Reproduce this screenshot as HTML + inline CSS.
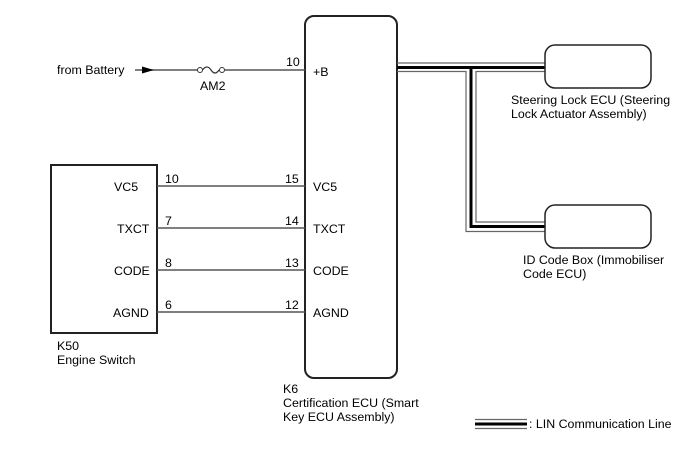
<!DOCTYPE html>
<html><head><meta charset="utf-8"><style>
body{margin:0;background:#fff}
svg{display:block}
text{font-family:"Liberation Sans",Arial,sans-serif;font-size:12.4px;fill:#000}
</style></head><body>
<svg width="688" height="463" viewBox="0 0 688 463">
<rect x="305" y="16" width="92" height="362" rx="9" fill="none" stroke="#222" stroke-width="2"/>
<rect x="51" y="165" width="106" height="168" fill="none" stroke="#222" stroke-width="2"/>
<line x1="135" y1="70" x2="198" y2="70" stroke="#555" stroke-width="1.5"/>
<polygon points="142,66.5 154,70 142,73.5" fill="#000"/>
<circle cx="200" cy="70" r="2.5" fill="#fff" stroke="#333"/>
<path d="M202.5 70 Q207 64 211 70 T219 70" fill="none" stroke="#333" stroke-width="1.2"/>
<circle cx="222" cy="70" r="2.5" fill="#fff" stroke="#333"/>
<line x1="224.5" y1="70" x2="305" y2="70" stroke="#555" stroke-width="1.5"/>
<text x="57" y="74">from Battery</text>
<text x="200" y="90">AM2</text>
<text x="286" y="66">10</text>
<text x="313" y="76">+B</text>
<g stroke="#555" stroke-width="1.5">
<line x1="157" y1="186" x2="305" y2="186"/>
<line x1="157" y1="228" x2="305" y2="228"/>
<line x1="157" y1="270" x2="305" y2="270"/>
<line x1="157" y1="312" x2="305" y2="312"/>
</g>
<text x="114" y="191">VC5</text>
<text x="117" y="233">TXCT</text>
<text x="114" y="275">CODE</text>
<text x="113" y="317">AGND</text>
<text x="165" y="183">10</text>
<text x="165" y="225">7</text>
<text x="165" y="267">8</text>
<text x="165" y="309">6</text>
<text x="285" y="183">15</text>
<text x="285" y="225">14</text>
<text x="285" y="267">13</text>
<text x="285" y="309">12</text>
<text x="313" y="191">VC5</text>
<text x="313" y="233">TXCT</text>
<text x="313" y="275">CODE</text>
<text x="313" y="317">AGND</text>
<text x="57" y="350">K50</text>
<text x="57" y="364">Engine Switch</text>
<text x="283" y="393">K6</text>
<text x="283" y="407">Certification ECU (Smart</text>
<text x="283" y="421">Key ECU Assembly)</text>
<g fill="none">
<polyline points="397,63 545,63" stroke="#666" stroke-width="1.2"/>
<polyline points="397,67.5 545,67.5" stroke="#000" stroke-width="3"/>
<polyline points="397,71.5 466,71.5 466,231.5 545,231.5" stroke="#666" stroke-width="1.2"/>
<polyline points="471,67.5 471,226.5 545,226.5" stroke="#000" stroke-width="3"/>
<polyline points="545,71.5 476,71.5 476,222 545,222" stroke="#666" stroke-width="1.2"/>
</g>
<rect x="545" y="45" width="106" height="43" rx="10" fill="#fff" stroke="#222" stroke-width="1.5"/>
<rect x="545" y="205" width="106" height="43" rx="10" fill="#fff" stroke="#222" stroke-width="1.5"/>
<text x="511" y="104">Steering Lock ECU (Steering</text>
<text x="511" y="118">Lock Actuator Assembly)</text>
<text x="523" y="264">ID Code Box (Immobiliser</text>
<text x="523" y="278">Code ECU)</text>
<line x1="475" y1="419.5" x2="527" y2="419.5" stroke="#666" stroke-width="1.2"/>
<line x1="475" y1="424" x2="527" y2="424" stroke="#000" stroke-width="3"/>
<line x1="475" y1="428.5" x2="527" y2="428.5" stroke="#666" stroke-width="1.2"/>
<text x="529" y="428">: LIN Communication Line</text>
</svg>
</body></html>
